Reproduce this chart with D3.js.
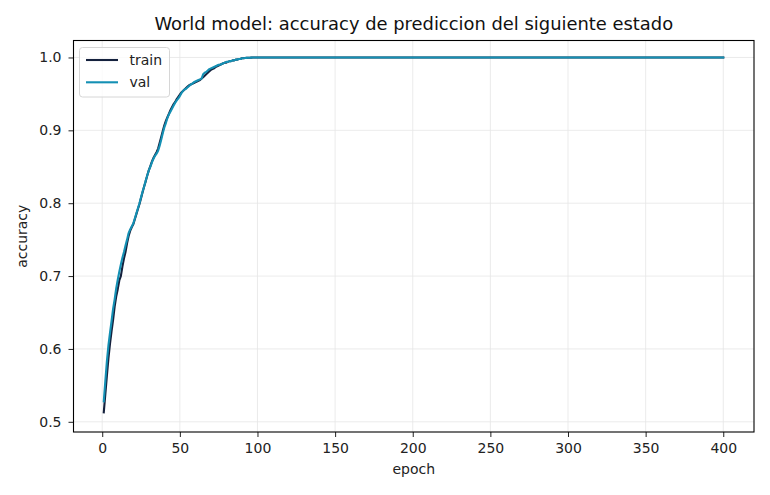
<!DOCTYPE html>
<html>
<head>
<meta charset="utf-8">
<script src="https://cdn.jsdelivr.net/npm/d3@7"></script>
<style>
  body { margin: 0; background: #fff; }
  svg { font-family: "DejaVu Sans", sans-serif; }
</style>
</head>
<body>
<svg id="chart" width="770" height="495"></svg>
<script>
// Accuracy per epoch (epochs 1..100, then flat at 1.0 up to 400)
const trainCurve = [
  0.513, 0.538, 0.563, 0.587, 0.607, 0.624, 0.640, 0.658, 0.672, 0.682,
  0.694, 0.700, 0.713, 0.724, 0.733, 0.745, 0.755, 0.762, 0.767, 0.771,
  0.778, 0.785, 0.792, 0.799, 0.807, 0.815, 0.823, 0.830, 0.838, 0.845,
  0.851, 0.857, 0.862, 0.866, 0.870, 0.875, 0.883, 0.891, 0.899, 0.907,
  0.913, 0.918, 0.923, 0.928, 0.932, 0.936, 0.939, 0.943, 0.946, 0.949,
  0.952, 0.954, 0.956, 0.958, 0.960, 0.962, 0.963, 0.964, 0.965, 0.966,
  0.967, 0.968, 0.969, 0.971, 0.973, 0.975, 0.977, 0.979, 0.981, 0.983,
  0.984, 0.985, 0.987, 0.988, 0.989, 0.990, 0.991, 0.992, 0.993, 0.993,
  0.994, 0.995, 0.995, 0.996, 0.996, 0.997, 0.997, 0.998, 0.998, 0.999,
  0.999, 0.9993, 0.9995, 0.9996, 0.9997, 0.9998, 0.9999, 1.0, 1.0, 1.0
];
const valCurve = [
  0.528, 0.556, 0.583, 0.605, 0.622, 0.638, 0.655, 0.668, 0.683, 0.695,
  0.706, 0.716, 0.725, 0.733, 0.742, 0.750, 0.759, 0.764, 0.768, 0.772,
  0.779, 0.786, 0.793, 0.800, 0.808, 0.816, 0.823, 0.831, 0.838, 0.845,
  0.850, 0.856, 0.861, 0.865, 0.868, 0.872, 0.879, 0.887, 0.896, 0.904,
  0.910, 0.917, 0.922, 0.926, 0.930, 0.934, 0.938, 0.941, 0.944, 0.947,
  0.951, 0.954, 0.956, 0.957, 0.959, 0.961, 0.963, 0.964, 0.966, 0.967,
  0.968, 0.969, 0.970, 0.971, 0.977, 0.979, 0.980, 0.982, 0.984, 0.985,
  0.986, 0.987, 0.988, 0.989, 0.990, 0.990, 0.991, 0.992, 0.993, 0.994,
  0.994, 0.995, 0.995, 0.996, 0.996, 0.997, 0.997, 0.998, 0.998, 0.999,
  0.999, 0.9993, 0.9995, 0.9996, 0.9997, 0.9998, 0.9999, 0.9999, 1.0, 1.0
];
// epochs 101..400 sit on 1.0 in both series
const plateauValue = 1.0;
const totalEpochs = 400;

const xTicks = [0, 50, 100, 150, 200, 250, 300, 350, 400];
const yTicks = [0.5, 0.6, 0.7, 0.8, 0.9, 1.0];

const titleText = 'World model: accuracy de prediccion del siguiente estado';
const seriesNames = ['train', 'val'];
const seriesColors = ['#14213d', '#1490b4'];

// Build full per-epoch series
const build = (curve) => {
  const out = [];
  for (let e = 1; e <= totalEpochs; e += 1) {
    out.push({ epoch: e, acc: e <= curve.length ? curve[e - 1] : plateauValue });
  }
  return out;
};
const series = [build(trainCurve), build(valCurve)];

const svg = d3.select('#chart');
const plotLeft = 73.5;
const plotRight = 754;
const plotTop = 40.5;
const plotBottom = 432;

const x = d3.scaleLinear().domain([-18.5, 419.8]).range([plotLeft, plotRight]);
const y = d3.scaleLinear().domain([0.486, 1.0233]).range([plotBottom, plotTop]);

// Grid
const grid = svg.append('g').attr('stroke', '#e6e6e6').attr('stroke-width', 0.8);
grid.selectAll('line.gx').data(xTicks).join('line')
  .attr('class', 'gx')
  .attr('x1', d => x(d)).attr('x2', d => x(d))
  .attr('y1', plotTop).attr('y2', plotBottom);
grid.selectAll('line.gy').data(yTicks).join('line')
  .attr('class', 'gy')
  .attr('x1', plotLeft).attr('x2', plotRight)
  .attr('y1', d => y(d)).attr('y2', d => y(d));

// Lines
const line = d3.line().x(d => x(d.epoch)).y(d => y(d.acc));
svg.append('g').selectAll('path').data(series).join('path')
  .attr('d', line)
  .attr('fill', 'none')
  .attr('stroke', (d, i) => seriesColors[i])
  .attr('stroke-width', 2.1)
  .attr('stroke-linejoin', 'round')
  .attr('stroke-linecap', 'square');

// Axes
const xAxis = svg.append('g')
  .attr('transform', `translate(0,${plotBottom})`)
  .call(d3.axisBottom(x).tickValues(xTicks).tickSize(5).tickPadding(6).tickFormat(d3.format('d')));
const yAxis = svg.append('g')
  .attr('transform', `translate(${plotLeft},0)`)
  .call(d3.axisLeft(y).tickValues(yTicks).tickSize(5).tickPadding(7).tickFormat(d3.format('.1f')));
[xAxis, yAxis].forEach((ax) => {
  ax.select('.domain').remove();
  ax.selectAll('text').attr('font-size', 14).attr('fill', '#222')
    .attr('font-family', '"DejaVu Sans", sans-serif');
  ax.selectAll('line').attr('stroke', '#222').attr('stroke-width', 1);
});
xAxis.selectAll('text').attr('dy', '0.73em');

// Frame
svg.append('rect')
  .attr('x', plotLeft).attr('y', plotTop)
  .attr('width', plotRight - plotLeft).attr('height', plotBottom - plotTop)
  .attr('fill', 'none').attr('stroke', '#000').attr('stroke-width', 1.1);

// Labels
svg.append('text')
  .attr('x', (plotLeft + plotRight) / 2).attr('y', 30)
  .attr('text-anchor', 'middle').attr('font-size', 17.9).attr('fill', '#111')
  .text(titleText);
svg.append('text')
  .attr('x', (plotLeft + plotRight) / 2).attr('y', 473.5)
  .attr('text-anchor', 'middle').attr('font-size', 14).attr('fill', '#222')
  .text('epoch');
svg.append('text')
  .attr('transform', `translate(26.5,${(plotTop + plotBottom) / 2}) rotate(-90)`)
  .attr('text-anchor', 'middle').attr('font-size', 14).attr('fill', '#222')
  .text('accuracy');

// Legend
const legend = svg.append('g');
legend.append('rect')
  .attr('x', 79.5).attr('y', 47.5).attr('width', 90).attr('height', 49.5).attr('rx', 3)
  .attr('fill', '#fff').attr('fill-opacity', 0.8)
  .attr('stroke', '#d6d6d6').attr('stroke-width', 1);
seriesNames.forEach((name, i) => {
  const ly = 60 + i * 22.3;
  legend.append('line')
    .attr('x1', 86).attr('x2', 118).attr('y1', ly).attr('y2', ly)
    .attr('stroke', seriesColors[i]).attr('stroke-width', 2.1);
  legend.append('text')
    .attr('x', 129.5).attr('y', ly).attr('dy', '0.35em')
    .attr('font-size', 14).attr('fill', '#222')
    .text(name);
});
</script>
</body>
</html>
